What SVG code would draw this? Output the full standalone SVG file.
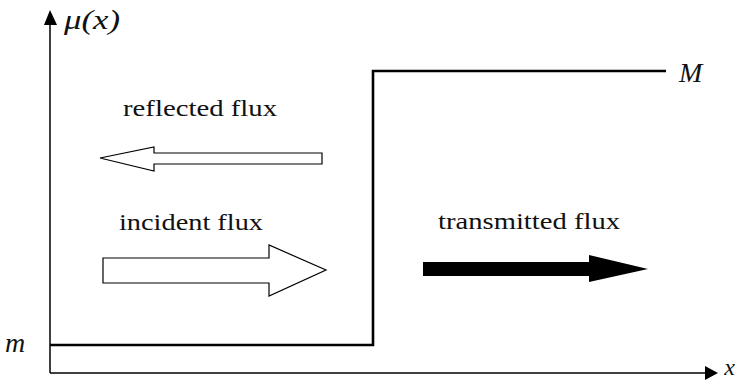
<svg xmlns="http://www.w3.org/2000/svg" width="739" height="381" viewBox="0 0 739 381">
<style>
.lbl{font-family:"Liberation Serif","DejaVu Serif",serif;font-size:23px;fill:#111}
.math{font-family:"Liberation Serif","DejaVu Serif",serif;font-style:italic;font-size:28px;fill:#111}
.axis{stroke:#000;stroke-width:1.5;fill:none}
.step{stroke:#000;stroke-width:2.6;fill:none}
.hollow{fill:#fff;stroke:#000;stroke-width:1.2}
</style>
<rect width="739" height="381" fill="#fff"/>
<g id="axes">
<line class="axis" x1="50" y1="373" x2="50" y2="22"/>
<polygon points="50,10 44,25 57,25" fill="#000"/>
<line class="axis" x1="50" y1="373" x2="706" y2="373"/>
<polygon points="718,373 705,366 705,380" fill="#000"/>
<text class="math" x="64" y="29" textLength="56" lengthAdjust="spacingAndGlyphs">μ(x)</text>
<text class="math" x="735" y="375" text-anchor="end" style="font-size:24px">x</text>
</g>
<g id="step">
<polyline class="step" points="50,345 373,345 373,71 666,71"/>
<text class="math" x="679" y="82">M</text>
<text class="math" x="5" y="352">m</text>
</g>
<g id="reflected">
<text class="lbl" x="123" y="116" textLength="154" lengthAdjust="spacingAndGlyphs">reflected flux</text>
<polygon class="hollow" points="100,158 154,147 154,153 322,153 322,164 154,164 154,171"/>
</g>
<g id="incident">
<text class="lbl" x="119" y="230" textLength="144" lengthAdjust="spacingAndGlyphs">incident flux</text>
<polygon class="hollow" points="103,258 269,258 269,245 326,270 269,296 269,283 103,283"/>
</g>
<g id="transmitted">
<text class="lbl" x="438" y="229" textLength="182" lengthAdjust="spacingAndGlyphs">transmitted flux</text>
<polygon points="423,262 589,262 589,255 648,269 589,282 589,276 423,276" fill="#000"/>
</g>
</svg>
